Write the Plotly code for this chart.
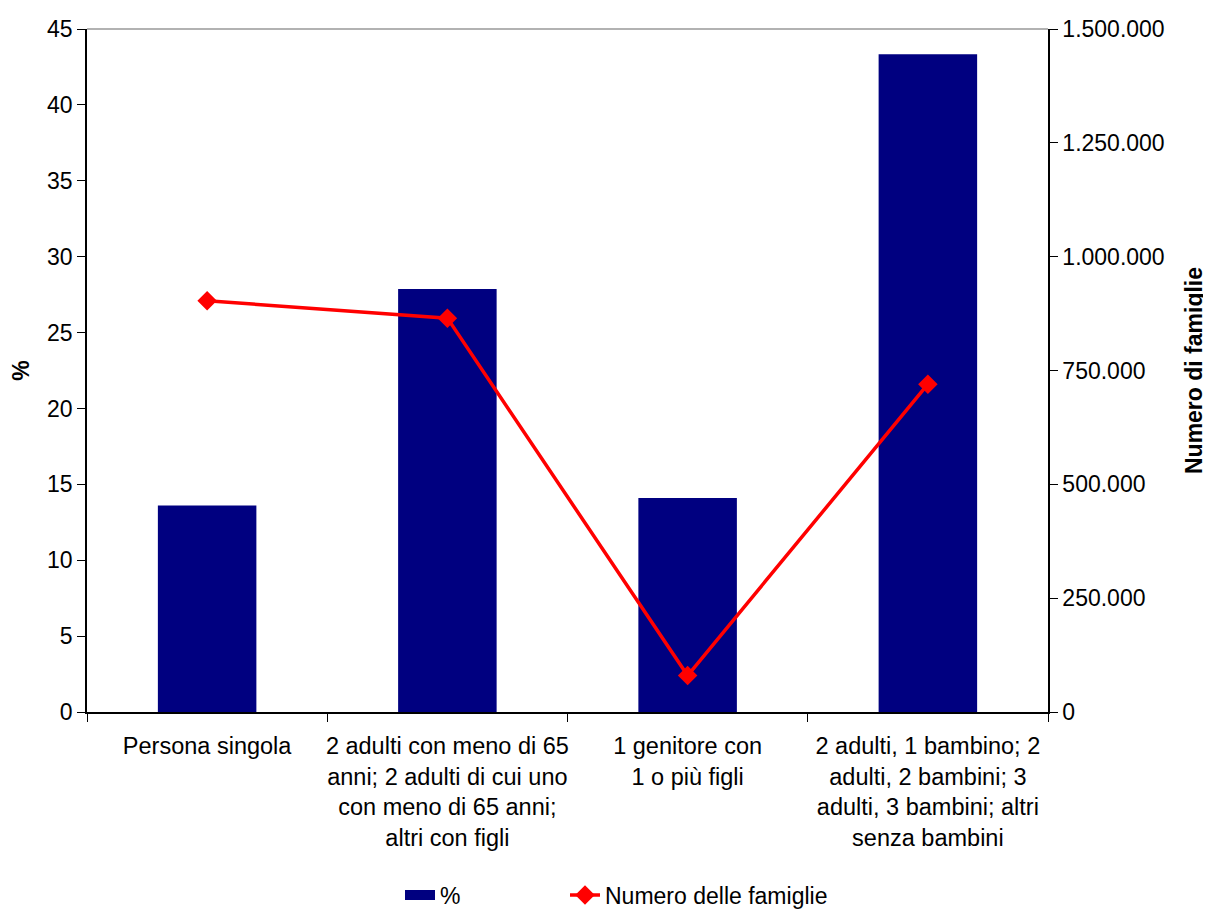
import plotly.graph_objects as go

categories = [
    "Persona singola",
    "2 adulti con meno di 65<br>anni; 2 adulti di cui uno<br>con meno di 65 anni;<br>altri con figli",
    "1 genitore con<br>1 o più figli",
    "2 adulti, 1 bambino; 2<br>adulti, 2 bambini; 3<br>adulti, 3 bambini; altri<br>senza bambini",
]
percent = [13.6, 27.87, 14.1, 43.33]
famiglie = [903000, 865000, 80000, 720000]

y_ticks = [0, 5, 10, 15, 20, 25, 30, 35, 40, 45]
y2_ticks = [0, 250000, 500000, 750000, 1000000, 1250000, 1500000]

FONT = "Liberation Sans, Arial, sans-serif"
NAVY = "#000080"
RED = "#FF0000"

# page body has an 8px margin: figure is drawn 8px right/down of the window corner
OFF = 8
W, H = 1211 - OFF, 911 - OFF
L, T = 87 - OFF, 29 - OFF
PW, PH = 961, 683
R = W - L - PW
B = H - T - PH

fig = go.Figure()
fig.add_trace(go.Bar(
    x=categories, y=percent, name="%",
    marker=dict(color=NAVY, line=dict(width=0)),
    yaxis="y", showlegend=False,
))
# legend entry for the bars (wide rectangle look)
fig.add_trace(go.Scatter(
    x=[None], y=[None], name="%", mode="lines",
    line=dict(color=NAVY, width=15), legend="legend", hoverinfo="skip",
))
fig.add_trace(go.Scatter(
    x=categories, y=famiglie, name="Numero delle famiglie",
    mode="lines+markers",
    line=dict(color=RED, width=3.5),
    marker=dict(symbol="diamond", size=15, color=RED),
    yaxis="y2", legend="legend2",
))

legend_y = (T + PH - (895 - OFF)) / PH
legend_common = dict(orientation="h", yanchor="middle", xanchor="left", y=legend_y,
                     font=dict(size=23), bgcolor="rgba(0,0,0,0)")

fig.update_layout(
    width=W, height=H,
    margin=dict(l=L, r=R, t=T, b=B, autoexpand=False),
    paper_bgcolor="white", plot_bgcolor="white",
    font=dict(family=FONT, size=23, color="black"),
    separators=",.",
    bargap=0.59,
    showlegend=True,
    legend=dict(x=(400 - 87) / PW, **legend_common),
    legend2=dict(x=(565 - 87) / PW, **legend_common),
    xaxis=dict(
        type="category", tickson="boundaries", ticks="outside", ticklen=8,
        tickcolor="black", showline=True, linecolor="black", linewidth=1.5,
        showgrid=False, zeroline=False, automargin=False, tickangle=0,
        tickfont=dict(size=23.5), ticklabelstandoff=12,
    ),
    yaxis=dict(
        range=[0, 45], tickvals=y_ticks, ticks="outside", ticklen=8,
        tickcolor="black", showline=True, linecolor="black", linewidth=1.5,
        showgrid=False, zeroline=False, automargin=False,
        title=dict(text="<b>%</b>", font=dict(size=23), standoff=28),
    ),
    yaxis2=dict(
        range=[0, 1500000], tickvals=y2_ticks, tickformat=",d",
        overlaying="y", side="right", ticks="outside", ticklen=8,
        tickcolor="black", showline=True, linecolor="black", linewidth=1.5,
        showgrid=False, zeroline=False, automargin=False,
        title=dict(text="<b>Numero di famiglie</b>", font=dict(size=23), standoff=22),
    ),
    shapes=[dict(type="line", xref="paper", yref="paper", x0=0, x1=1, y0=1, y1=1,
                 line=dict(color="#999999", width=1.5))],
)

fig.write_html("out.html")
